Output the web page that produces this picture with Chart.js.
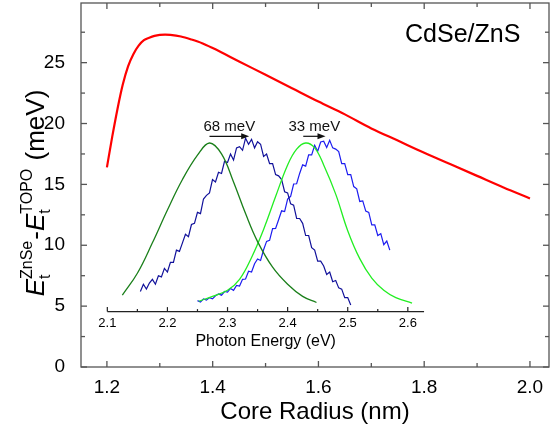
<!DOCTYPE html>
<html>
<head>
<meta charset="UTF-8">
<title>CdSe/ZnS</title>
<script src="https://cdn.jsdelivr.net/npm/chart.js"></script>
<style>
  html, body { margin: 0; padding: 0; background: #fff; }
  #wrap { width: 550px; height: 433px; }
</style>
</head>
<body>
<div id="wrap"><canvas id="chart"></canvas></div>
<script>
// main curve: core radius (nm) vs energy difference (meV)
const radius = [1.20, 1.21, 1.22, 1.23, 1.24, 1.25, 1.26, 1.27, 1.28, 1.29, 1.30, 1.31, 1.32, 1.34, 1.36, 1.38, 1.40,
                1.45, 1.50, 1.55, 1.60, 1.65, 1.70, 1.75, 1.80, 1.85, 1.90, 1.95, 2.00];
const deltaE = [16.4, 18.9, 21.2, 23.2, 24.7, 25.7, 26.4, 26.85, 27.05, 27.2, 27.28, 27.3, 27.28, 27.15, 26.9, 26.6, 26.2,
                25.1, 24.0, 22.9, 21.8, 20.75, 19.6, 18.6, 17.6, 16.65, 15.7, 14.75, 13.85];

// inset spectra (photon energy in eV, drawn against the main y range)
const greenDarkE = [2.125, 2.15, 2.175, 2.20, 2.225, 2.25, 2.27, 2.29, 2.31, 2.33, 2.35, 2.375, 2.40, 2.425, 2.448];
const greenDarkY = [5.9, 7.7, 10.2, 12.9, 15.4, 17.4, 18.4, 17.5, 15.2, 12.6, 10.3, 8.2, 6.8, 5.8, 5.3];

const greenE = [2.252, 2.275, 2.30, 2.32, 2.34, 2.36, 2.38, 2.40, 2.415, 2.43, 2.445, 2.46, 2.48, 2.50, 2.52, 2.54, 2.56, 2.58, 2.607];
const greenY = [5.4, 5.8, 6.3, 7.2, 9.0, 11.3, 14.0, 16.6, 17.9, 18.4, 18.0, 16.6, 14.2, 11.2, 8.9, 7.3, 6.3, 5.7, 5.25];

const blueDarkE = [2.155, 2.160, 2.165, 2.170, 2.175, 2.180, 2.185, 2.190, 2.195, 2.200,
                   2.205, 2.210, 2.215, 2.220, 2.225, 2.230, 2.235, 2.240, 2.245, 2.250,
                   2.255, 2.260, 2.265, 2.270, 2.275, 2.280, 2.285, 2.290, 2.295, 2.300,
                   2.305, 2.310, 2.315, 2.320, 2.325, 2.330, 2.335, 2.340, 2.345, 2.350,
                   2.355, 2.360, 2.365, 2.370, 2.375, 2.380, 2.385, 2.390, 2.395, 2.400,
                   2.405, 2.410, 2.415, 2.420, 2.425, 2.430, 2.435, 2.440, 2.445, 2.450,
                   2.455, 2.460, 2.465, 2.470, 2.475, 2.480, 2.485, 2.490, 2.495, 2.500, 2.505];
const blueDarkY = [6.2, 6.8, 6.4, 6.9, 7.2, 6.8, 7.5, 7.4, 8.1, 7.8,
                   8.6, 8.6, 9.6, 9.5, 10.2, 10.9, 10.7, 11.7, 11.8, 12.7,
                   12.6, 13.8, 14.1, 14.3, 15.4, 15.2, 16.0, 15.9, 16.9, 16.8,
                   17.5, 17.0, 18.0, 18.1, 17.8, 18.8, 18.3, 18.7, 18.0, 18.5,
                   18.3, 17.3, 17.5, 16.7, 16.7, 15.8, 15.7, 15.4, 14.4, 14.3,
                   13.4, 13.3, 12.2, 12.2, 11.8, 10.8, 10.8, 9.8, 9.6, 8.7,
                   8.7, 8.3, 7.6, 7.8, 7.0, 7.1, 6.5, 6.4, 5.7, 5.7, 5.1];

const blueE = [2.250, 2.255, 2.260, 2.265, 2.270, 2.275, 2.280, 2.285, 2.290, 2.295,
               2.300, 2.305, 2.310, 2.315, 2.320, 2.325, 2.330, 2.335, 2.340, 2.345,
               2.350, 2.355, 2.360, 2.365, 2.370, 2.375, 2.380, 2.385, 2.390, 2.395,
               2.400, 2.405, 2.410, 2.415, 2.420, 2.425, 2.430, 2.435, 2.440, 2.445,
               2.450, 2.455, 2.460, 2.465, 2.470, 2.475, 2.480, 2.485, 2.490, 2.495,
               2.500, 2.505, 2.510, 2.515, 2.520, 2.525, 2.530, 2.535, 2.540, 2.545,
               2.550, 2.555, 2.560, 2.565, 2.570];
const blueY = [5.45, 5.33, 5.59, 5.49, 5.70, 5.60, 5.85, 6.00, 5.90, 6.20,
               6.15, 6.45, 6.30, 6.70, 6.65, 7.20, 7.23, 7.87, 7.80, 8.48,
               8.87, 8.75, 9.63, 10.32, 10.40, 11.37, 11.38, 12.10, 12.83, 12.77,
               13.80, 14.02, 15.03, 15.05, 15.90, 16.60, 16.50, 17.42, 17.43, 18.20,
               17.72, 18.48, 18.55, 18.03, 18.62, 18.00, 17.90, 17.70, 16.70, 16.70,
               15.80, 15.80, 14.82, 14.63, 13.60, 13.65, 12.80, 12.70, 11.68, 11.67,
               10.80, 10.95, 10.05, 10.35, 9.60];

// peak shift arrows
const arrowFrom = [2.270, 2.426];
const arrowTo = [2.336, 2.463];
const arrowY = [18.95, 18.95];
const arrowText = ['68 meV', '33 meV'];

// ticks
const xTicks = [1.2, 1.4, 1.6, 1.8, 2.0];
const xMinor = [1.3, 1.5, 1.7, 1.9];
const yTicks = [0, 5, 10, 15, 20, 25];
const yMinor = [2.5, 7.5, 12.5, 17.5, 22.5, 27.5];
const insetTicks = [2.1, 2.2, 2.3, 2.4, 2.5, 2.6];
const insetMinor = [2.15, 2.25, 2.35, 2.45, 2.55];
const insetRange = [2.1, 2.627];
const insetAxisY = 4.55;

const FONT = "'Liberation Sans', Arial, sans-serif";

function pts(xs, ys) {
    return xs.map((v, i) => ({ x: v, y: ys[i] }));
}

function noPad(s) {
    s.paddingTop = 0; s.paddingBottom = 0; s.paddingLeft = 0; s.paddingRight = 0;
}

const decor = {
    id: 'decor',
    afterDatasetsDraw(chart) {
        const { ctx, chartArea: a, scales: { x, y, x2 } } = chart;
        ctx.save();

        function seg(x1, y1, x3, y3) {
            ctx.beginPath(); ctx.moveTo(x1, y1); ctx.lineTo(x3, y3); ctx.stroke();
        }

        // frame with inward ticks
        ctx.strokeStyle = '#555';
        ctx.lineWidth = 1.3;
        ctx.strokeRect(a.left, a.top, a.right - a.left, a.bottom - a.top);
        xTicks.concat(xMinor).forEach((v, i) => {
            const len = i < xTicks.length ? 6 : 4;
            const px = x.getPixelForValue(v);
            seg(px, a.bottom, px, a.bottom - len);
            seg(px, a.top, px, a.top + len);
        });
        yTicks.concat(yMinor).forEach((v, i) => {
            const len = i < yTicks.length ? 6 : 4;
            const py = y.getPixelForValue(v);
            seg(a.left, py, a.left + len, py);
            seg(a.right, py, a.right - len, py);
        });

        // inset axis
        const iy = y.getPixelForValue(insetAxisY);
        ctx.strokeStyle = '#222';
        ctx.lineWidth = 1.2;
        seg(x2.getPixelForValue(insetRange[0]), iy, x2.getPixelForValue(insetRange[1]), iy);
        insetTicks.concat(insetMinor).forEach((v, i) => {
            const len = i < insetTicks.length ? 4.5 : 2.5;
            const px = x2.getPixelForValue(v);
            seg(px, iy, px, iy - len);
        });
        ctx.fillStyle = '#000';
        ctx.font = '13px ' + FONT;
        ctx.textAlign = 'center';
        ctx.textBaseline = 'middle';
        insetTicks.forEach(v => ctx.fillText(v.toFixed(1), x2.getPixelForValue(v), iy + 12));
        ctx.font = '16px ' + FONT;
        ctx.fillText('Photon Energy (eV)',
            (x2.getPixelForValue(insetRange[0]) + x2.getPixelForValue(insetRange[1])) / 2, iy + 30);

        // arrows
        ctx.strokeStyle = '#111';
        ctx.fillStyle = '#111';
        ctx.lineWidth = 1.2;
        arrowFrom.forEach((v, i) => {
            const x1 = x2.getPixelForValue(v);
            const x3 = x2.getPixelForValue(arrowTo[i]);
            const py = y.getPixelForValue(arrowY[i]);
            seg(x1, py, x3 - 5, py);
            ctx.beginPath();
            ctx.moveTo(x3, py); ctx.lineTo(x3 - 8, py - 3); ctx.lineTo(x3 - 8, py + 3);
            ctx.closePath(); ctx.fill();
            ctx.font = '15px ' + FONT;
            ctx.textAlign = 'center';
            ctx.textBaseline = 'alphabetic';
            ctx.fillText(arrowText[i], (x1 + x3) / 2, py - 5);
        });

        // sample label
        ctx.fillStyle = '#000';
        ctx.font = '25px ' + FONT;
        ctx.textAlign = 'left';
        ctx.textBaseline = 'alphabetic';
        ctx.fillText('CdSe/ZnS', 405, 42);

        // y title: E_t^ZnSe - E_t^TOPO (meV)
        const big = '26px ' + FONT, bigI = 'italic 26px ' + FONT, small = '16px ' + FONT;
        const parts = [
            { t: 'E', f: bigI },
            { sub: 't', sup: 'ZnSe' },
            { t: '-', f: big },
            { t: 'E', f: bigI },
            { sub: 't', sup: 'TOPO' },
            { t: ' (meV)', f: big }
        ];
        parts.forEach(p => {
            if (p.t) { ctx.font = p.f; p.w = ctx.measureText(p.t).width; }
            else { ctx.font = small; p.w = Math.max(ctx.measureText(p.sub).width, ctx.measureText(p.sup).width) + 1; }
        });
        const total = parts.reduce((s, p) => s + p.w, 0);
        ctx.translate(44, (a.top + a.bottom) / 2 + 8);
        ctx.rotate(-Math.PI / 2);
        let cx = -total / 2;
        parts.forEach(p => {
            if (p.t) {
                ctx.font = p.f; ctx.fillText(p.t, cx, 0);
            } else {
                ctx.font = small;
                ctx.fillText(p.sub, cx, 6);
                ctx.fillText(p.sup, cx, -12);
            }
            cx += p.w;
        });
        ctx.restore();
    }
};

new Chart(document.getElementById('chart'), {
    type: 'scatter',
    data: {
        datasets: [
            { data: pts(greenDarkE, greenDarkY), xAxisID: 'x2', borderColor: '#1a7f1a', borderWidth: 1.3, tension: 0.4 },
            { data: pts(greenE, greenY), xAxisID: 'x2', borderColor: '#22ee22', borderWidth: 1.3, tension: 0.4 },
            { data: pts(blueDarkE, blueDarkY), xAxisID: 'x2', borderColor: '#10109a', borderWidth: 1.2, tension: 0 },
            { data: pts(blueE, blueY), xAxisID: 'x2', borderColor: '#1c1cf0', borderWidth: 1.2, tension: 0 },
            { data: pts(radius, deltaE), xAxisID: 'x', borderColor: '#ff0000', borderWidth: 2.2, cubicInterpolationMode: 'monotone' }
        ]
    },
    options: {
        responsive: true,
        maintainAspectRatio: false,
        animation: false,
        devicePixelRatio: 1,
        showLine: true,
        elements: { point: { radius: 0 } },
        layout: { padding: { top: 3, right: 1, left: 0, bottom: 0 } },
        plugins: { legend: { display: false }, tooltip: { enabled: false } },
        scales: {
            x: {
                type: 'linear', position: 'bottom', min: 1.151, max: 2.036,
                grid: { display: false }, border: { display: false },
                afterBuildTicks: s => { s.ticks = xTicks.map(v => ({ value: v })); },
                afterFit: s => { s.height = 66; noPad(s); },
                ticks: { padding: 1, color: '#000', font: { family: FONT, size: 19 },
                         maxRotation: 0, autoSkip: false, callback: v => v.toFixed(1) },
                title: { display: true, text: 'Core Radius (nm)', color: '#000',
                         font: { family: FONT, size: 24 }, padding: { top: 0, bottom: 6 } }
            },
            x2: { type: 'linear', position: 'bottom', display: false, min: 2.0562, max: 2.8349 },
            y: {
                type: 'linear', position: 'left', min: 0, max: 29.9,
                grid: { display: false }, border: { display: false },
                afterBuildTicks: s => { s.ticks = yTicks.map(v => ({ value: v })); },
                afterFit: s => { s.width = 81; noPad(s); },
                ticks: { padding: 8, color: '#000', font: { family: FONT, size: 19 }, autoSkip: false }
            }
        }
    },
    plugins: [decor]
});
</script>
</body>
</html>
